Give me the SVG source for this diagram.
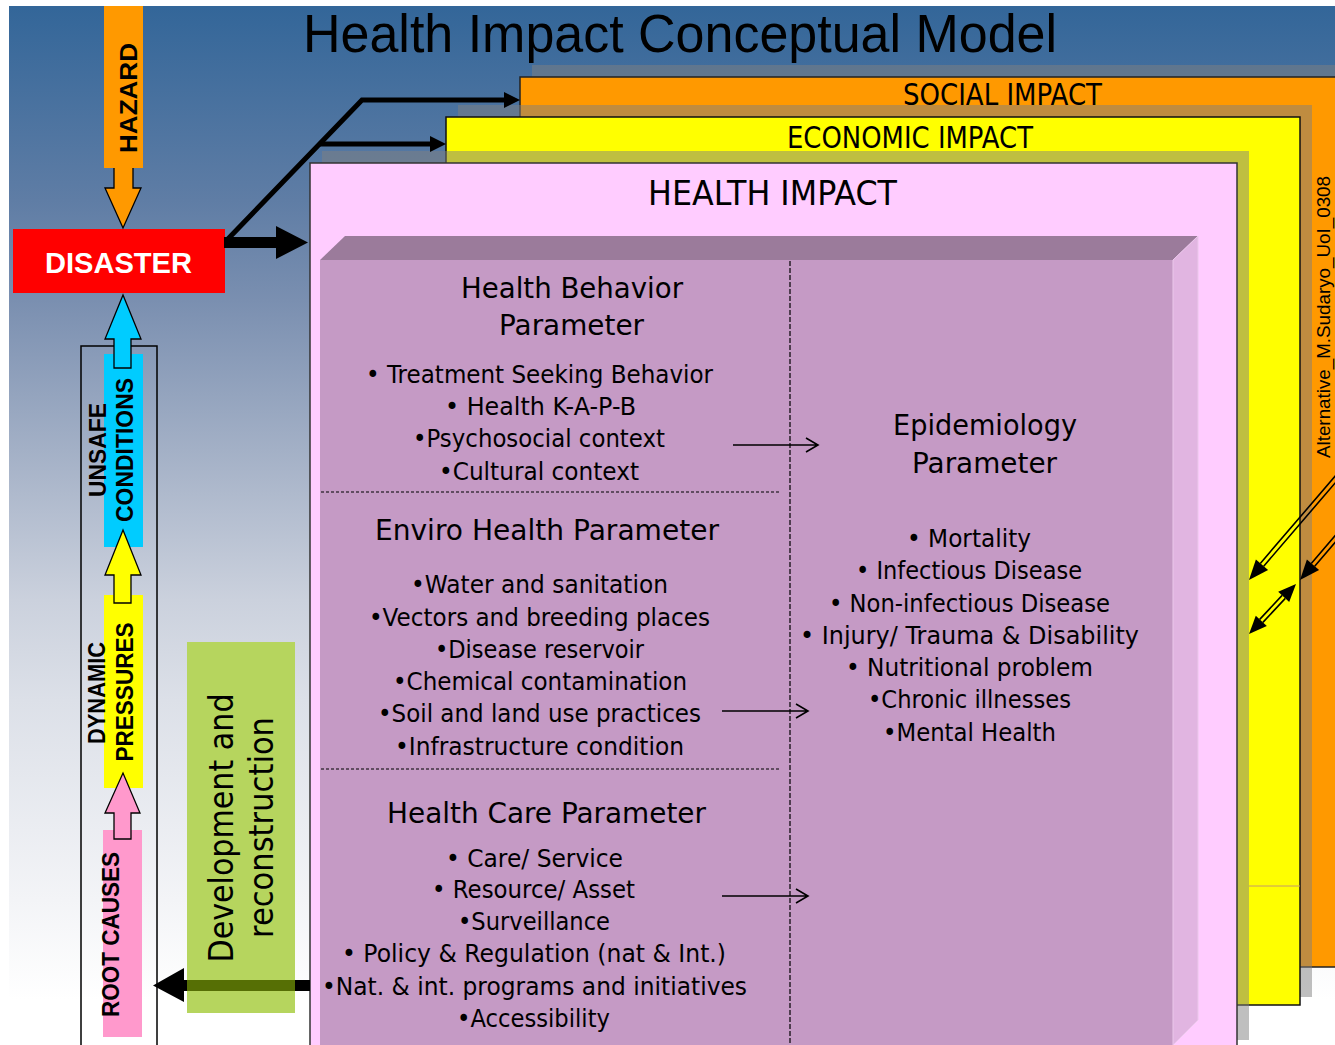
<svg xmlns="http://www.w3.org/2000/svg" width="1335" height="1045" viewBox="0 0 1335 1045">
<defs>
<linearGradient id="bg" gradientUnits="userSpaceOnUse" x1="0" y1="6" x2="0" y2="1045">
<stop offset="0" stop-color="#336699"/>
<stop offset="0.187" stop-color="#5F7DA5"/>
<stop offset="0.283" stop-color="#7A8FB0"/>
<stop offset="0.427" stop-color="#A3B0C6"/>
<stop offset="0.572" stop-color="#CBD1DD"/>
<stop offset="0.668" stop-color="#DCE0E8"/>
<stop offset="0.86" stop-color="#F3F4F7"/>
<stop offset="0.957" stop-color="#FFFFFF"/>
</linearGradient>
<style>
.body{font-family:"DejaVu Sans","Liberation Sans",sans-serif;font-size:25px;fill:#000}
.head{font-family:"DejaVu Sans","Liberation Sans",sans-serif;font-size:29px;fill:#000}
.imp{font-family:"DejaVu Sans","Liberation Sans",sans-serif;fill:#000}
.lbl{font-family:"Liberation Sans",Arial,sans-serif;font-weight:bold;font-size:23px;fill:#000}
.shadow{fill:#808080;fill-opacity:0.5}
.thin{stroke:#000;stroke-width:1.6;fill:none}
.dash{stroke:#000;stroke-width:1.2;stroke-dasharray:4 2;fill:none}
.blk{stroke:#000;stroke-width:1.3}
.dbl{stroke:#000;stroke-width:1.6;fill:none}
</style>
</defs>
<rect x="0" y="0" width="1335" height="1045" fill="#FFFFFF"/>
<rect x="9" y="6" width="1326" height="1039" fill="url(#bg)"/>

<g id="title">
<text x="303" y="52" font-family="Liberation Sans, Arial, sans-serif" font-size="54" textLength="754" lengthAdjust="spacingAndGlyphs" fill="#000">Health Impact Conceptual Model</text>
</g>

<g id="social-impact">
<rect class="shadow" x="532" y="65" width="820" height="890"/>
<rect x="520" y="77" width="830" height="890" fill="#FF9900" stroke="#222" stroke-width="1.5"/>
<text class="imp" x="903" y="105" font-size="31" textLength="199" lengthAdjust="spacingAndGlyphs">SOCIAL IMPACT</text>
</g>

<g id="economic-impact">
<rect class="shadow" x="458" y="105" width="854" height="892"/>
<rect x="446" y="117" width="854" height="888" fill="#FFFF00" stroke="#111" stroke-width="1.5"/>
<text class="imp" x="787" y="148" font-size="31" textLength="246" lengthAdjust="spacingAndGlyphs">ECONOMIC IMPACT</text>
<line x1="1249" y1="886" x2="1300" y2="886" stroke="#C49A6A" stroke-width="1"/>
</g>

<g id="health-impact">
<rect class="shadow" x="322" y="151" width="927" height="889"/>
<rect x="310" y="163" width="927" height="900" fill="#FFCCFF" stroke="#333" stroke-width="1.5"/>
<text class="imp" x="648" y="205" font-size="34" textLength="249" lengthAdjust="spacingAndGlyphs">HEALTH IMPACT</text>
</g>

<g id="parameter-box">
<rect x="320" y="260" width="853" height="800" fill="#C59AC5"/>
<polygon points="320,260 345,236 1198,236 1173,260" fill="#9B7B9B"/>
<polygon points="1173,260 1198,236 1198,1020 1173,1045" fill="#E1B5E1" stroke="#EBC8EB" stroke-width="1"/>
<line class="dash" x1="790" y1="261" x2="790" y2="1045" style="stroke-dasharray:5 2"/>
<line class="dash" x1="321" y1="492" x2="779" y2="492" style="stroke-dasharray:3 2"/>
<line class="dash" x1="321" y1="769" x2="779" y2="769" style="stroke-dasharray:3 2"/>
</g>

<g id="health-behavior">
<text class="head" x="461" y="298" textLength="222" lengthAdjust="spacingAndGlyphs">Health Behavior</text>
<text class="head" x="499" y="335" textLength="145" lengthAdjust="spacingAndGlyphs">Parameter</text>
<text class="body" x="366" y="383" textLength="347" lengthAdjust="spacingAndGlyphs">• Treatment Seeking Behavior</text>
<text class="body" x="445" y="415" textLength="191" lengthAdjust="spacingAndGlyphs">• Health K-A-P-B</text>
<text class="body" x="413" y="447" textLength="252" lengthAdjust="spacingAndGlyphs">•Psychosocial context</text>
<text class="body" x="439" y="480" textLength="200" lengthAdjust="spacingAndGlyphs">•Cultural context</text>
</g>

<g id="enviro-health">
<text class="head" x="375" y="540" textLength="344" lengthAdjust="spacingAndGlyphs">Enviro Health Parameter</text>
<text class="body" x="411" y="593" textLength="257" lengthAdjust="spacingAndGlyphs">•Water and sanitation</text>
<text class="body" x="369" y="626" textLength="341" lengthAdjust="spacingAndGlyphs">•Vectors and breeding places</text>
<text class="body" x="435" y="658" textLength="209" lengthAdjust="spacingAndGlyphs">•Disease reservoir</text>
<text class="body" x="393" y="690" textLength="294" lengthAdjust="spacingAndGlyphs">•Chemical contamination</text>
<text class="body" x="378" y="722" textLength="323" lengthAdjust="spacingAndGlyphs">•Soil and land use practices</text>
<text class="body" x="395" y="755" textLength="289" lengthAdjust="spacingAndGlyphs">•Infrastructure condition</text>
</g>

<g id="health-care">
<text class="head" x="387" y="823" textLength="319" lengthAdjust="spacingAndGlyphs">Health Care Parameter</text>
<text class="body" x="446" y="867" textLength="177" lengthAdjust="spacingAndGlyphs">• Care/ Service</text>
<text class="body" x="432" y="898" textLength="203" lengthAdjust="spacingAndGlyphs">• Resource/ Asset</text>
<text class="body" x="458" y="930" textLength="152" lengthAdjust="spacingAndGlyphs">•Surveillance</text>
<text class="body" x="342" y="962" textLength="384" lengthAdjust="spacingAndGlyphs">• Policy &amp; Regulation (nat &amp; Int.)</text>
<text class="body" x="322" y="995" textLength="425" lengthAdjust="spacingAndGlyphs">•Nat. &amp; int. programs and initiatives</text>
<text class="body" x="457" y="1027" textLength="153" lengthAdjust="spacingAndGlyphs">•Accessibility</text>
</g>

<g id="epidemiology">
<text class="head" x="893" y="435" textLength="184" lengthAdjust="spacingAndGlyphs">Epidemiology</text>
<text class="head" x="912" y="473" textLength="145" lengthAdjust="spacingAndGlyphs">Parameter</text>
<text class="body" x="907" y="547" textLength="124" lengthAdjust="spacingAndGlyphs">• Mortality</text>
<text class="body" x="856" y="579" textLength="226" lengthAdjust="spacingAndGlyphs">• Infectious Disease</text>
<text class="body" x="829" y="612" textLength="281" lengthAdjust="spacingAndGlyphs">• Non-infectious Disease</text>
<text class="body" x="800" y="644" textLength="339" lengthAdjust="spacingAndGlyphs">• Injury/ Trauma &amp; Disability</text>
<text class="body" x="846" y="676" textLength="247" lengthAdjust="spacingAndGlyphs">• Nutritional problem</text>
<text class="body" x="868" y="708" textLength="203" lengthAdjust="spacingAndGlyphs">•Chronic illnesses</text>
<text class="body" x="883" y="741" textLength="173" lengthAdjust="spacingAndGlyphs">•Mental Health</text>
</g>

<g id="credit">
<text transform="translate(1330,317) rotate(-90)" x="-141" y="0" font-family="Liberation Sans, Arial, sans-serif" font-size="19" textLength="282" lengthAdjust="spacingAndGlyphs" fill="#000">Alternative_M.Sudaryo_UoI_0308</text>
</g>

<g id="pressure-frame">
<rect x="81" y="346" width="76" height="720" fill="none" stroke="#000" stroke-width="1.5"/>
</g>

<g id="hazard">
<rect x="104" y="6" width="39" height="162" fill="#FF9900"/>
<text class="lbl" transform="translate(137,98) rotate(-90)" x="-55" y="0" font-size="26" textLength="110" lengthAdjust="spacingAndGlyphs">HAZARD</text>
</g>

<g id="disaster">
<rect x="13" y="229" width="212" height="64" fill="#FF0000"/>
<text x="45" y="273" font-family="Liberation Sans, Arial, sans-serif" font-weight="bold" font-size="29" textLength="147" lengthAdjust="spacingAndGlyphs" fill="#FFFFFF">DISASTER</text>
</g>

<g id="unsafe-conditions">
<rect x="104" y="354" width="39" height="193" fill="#00CCFF"/>
<text class="lbl" transform="translate(106,450) rotate(-90)" x="-47" y="0" textLength="94" lengthAdjust="spacingAndGlyphs">UNSAFE</text>
<text class="lbl" transform="translate(133,450) rotate(-90)" x="-72" y="0" textLength="144" lengthAdjust="spacingAndGlyphs">CONDITIONS</text>
</g>

<g id="dynamic-pressures">
<rect x="104" y="595" width="39" height="193" fill="#FFFF00"/>
<text class="lbl" transform="translate(105,693) rotate(-90)" x="-51" y="0" textLength="102" lengthAdjust="spacingAndGlyphs">DYNAMIC</text>
<text class="lbl" transform="translate(133,692) rotate(-90)" x="-69.5" y="0" textLength="139" lengthAdjust="spacingAndGlyphs">PRESSURES</text>
</g>

<g id="root-causes">
<rect x="103" y="830" width="39" height="207" fill="#FF99CC"/>
<text class="lbl" transform="translate(119,934.5) rotate(-90)" x="-82.5" y="0" textLength="165" lengthAdjust="spacingAndGlyphs">ROOT CAUSES</text>
</g>

<g id="development-reconstruction">
<rect x="187" y="642" width="108" height="371" fill="#B6D55E"/>
<text transform="translate(233,828) rotate(-90)" x="-134.5" y="0" font-family="DejaVu Sans, Liberation Sans, sans-serif" font-size="33" textLength="269" lengthAdjust="spacingAndGlyphs" fill="#000">Development and</text>
<text transform="translate(273,827.5) rotate(-90)" x="-110.5" y="0" font-family="DejaVu Sans, Liberation Sans, sans-serif" font-size="33" textLength="221" lengthAdjust="spacingAndGlyphs" fill="#000">reconstruction</text>
</g>

<g id="connectors">
<!-- hazard to disaster -->
<path d="M114,168 V188 H105 L123,228 L141,188 H133 V168" fill="#FF9900" class="blk"/>
<!-- unsafe conditions to disaster -->
<path d="M114,368 V339 H105 L123,295 L141,339 H131 V368 Z" fill="#00CCFF" class="blk"/>
<!-- dynamic pressures to unsafe conditions -->
<path d="M114,603 V575 H105 L123,530 L141,575 H131 V603 Z" fill="#FFFF00" class="blk"/>
<!-- root causes to dynamic pressures -->
<path d="M114,839 V813 H105 L123,773 L140,813 H131 V839 Z" fill="#FF99CC" class="blk"/>
<!-- disaster to health impact -->
<polygon points="224,237 276,237 276,226 308,242.5 276,259 276,248 224,248" fill="#000"/>
<!-- disaster to social / economic impact -->
<path d="M226,241 L362,100 L506,100" fill="none" stroke="#000" stroke-width="5"/>
<polygon points="504,92 520,100 504,108" fill="#000"/>
<path d="M320,144 L432,144" fill="none" stroke="#000" stroke-width="5"/>
<polygon points="430,136 446,144 430,152" fill="#000"/>
<!-- parameters to epidemiology -->
<path class="thin" d="M733,445 H818 M806,438 L818,445 L806,452"/>
<path class="thin" d="M722,711 H808 M796,704 L808,711 L796,718"/>
<path class="thin" d="M722,896 H808 M796,889 L808,896 L796,903"/>
<!-- health impact back to root causes -->
<polygon points="310,980 184,980 184,968 153,985.5 184,1002 184,991 310,991" fill="#000"/>
<rect x="187" y="980" width="108" height="11" fill="#566F05"/>
<!-- impact interactions -->
<path class="dbl" d="M1263.7,566.2 L1341.7,475.3 M1260.3,563.4 L1338.3,472.5"/>
<polygon points="1249,580 1268.1,570 1255.9,559.6" fill="#000"/>
<path class="dbl" d="M1314.7,566.2 L1344,532.1 M1311.3,563.4 L1340.6,529.3"/>
<polygon points="1300,580 1319.1,570 1306.9,559.6" fill="#000"/>
<path class="dbl" d="M1262.9,622.4 L1285.3,598.4 M1259.7,619.4 L1282.1,595.4"/>
<polygon points="1249,634 1266.8,626 1255.8,615.8" fill="#000"/>
<polygon points="1296,584 1289.2,602 1278.2,591.8" fill="#000"/>
</g>
</svg>
